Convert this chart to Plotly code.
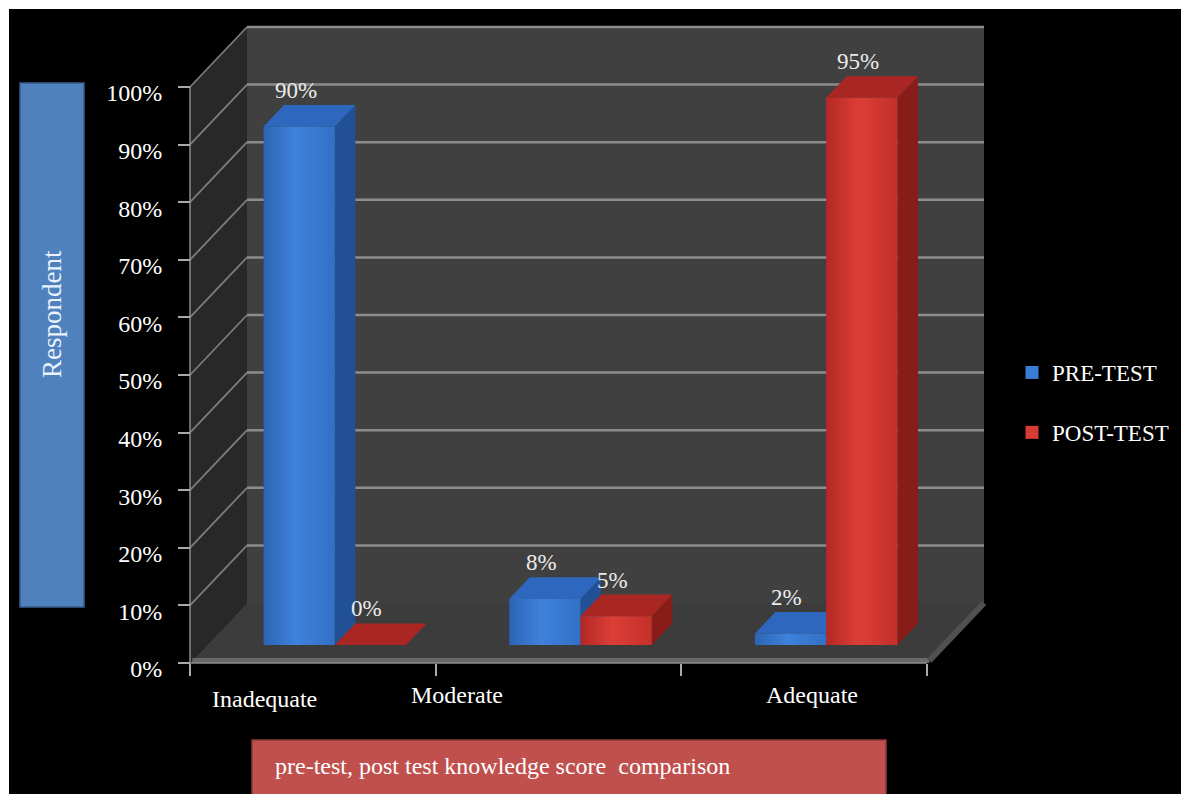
import plotly.graph_objects as go

# ---------------- data ----------------
categories = ["Inadequate", "Moderate", "Adequate"]
series_names = ["PRE-TEST", "POST-TEST"]
pre_test = [90, 8, 2]
post_test = [0, 5, 95]
y_ticks = [0, 10, 20, 30, 40, 50, 60, 70, 80, 90, 100]
y_tick_text = [f"{t}%" for t in y_ticks]
axis_title = "Respondent"
chart_title = "pre-test, post test knowledge score  comparison"

SERIF = "Times New Roman, Liberation Serif, DejaVu Serif, serif"

# ---------------- layout geometry ----------------
W, H = 1181, 794
ML, MT = 9, 9                      # white border on top/left
PW, PH = W - ML, H - MT
X0_PX, X3_PX = 190, 927            # front frame left/right (category 0 .. 3)
Y0_PX, Y100_PX = 663, 87           # front frame 0% / 100%
KX = (X3_PX - X0_PX) / 3.0
KY = (Y0_PX - Y100_PX) / 100.0
X_RANGE = [(ML - X0_PX) / KX, (W - X0_PX) / KX]
Y_RANGE = [(Y0_PX - H) / KY, (Y0_PX - MT) / KY]
DX = 57 / KX                        # depth offset (x units)
DY = 60 / KY                        # depth offset (y units)
D0, D1 = 0.30, 0.66                 # bar depth range
BW = 0.29                           # bar width
GC = 0.52                           # group center inside category


def px_x(px):
    return (px - ML) / PW


def px_y(py):
    return 1 - (py - MT) / PH


def P(u, v, d):
    return u + d * DX, v + d * DY


def poly(pts, fill, line_color=None, line_width=0, gradient=None):
    xs = [p[0] for p in pts] + [pts[0][0]]
    ys = [p[1] for p in pts] + [pts[0][1]]
    tr = dict(x=xs, y=ys, mode="lines", fill="toself", fillcolor=fill,
              line=dict(width=line_width, color=line_color or fill),
              hoverinfo="skip", showlegend=False)
    if gradient is not None:
        tr["fillgradient"] = gradient
    return go.Scatter(**tr)


def seg(p, q, color, width):
    return go.Scatter(x=[p[0], q[0]], y=[p[1], q[1]], mode="lines",
                      line=dict(color=color, width=width),
                      hoverinfo="skip", showlegend=False)


fig = go.Figure()
ncat = len(categories)
ymax = y_ticks[-1]

# walls
fig.add_trace(poly([P(0, 0, 0), P(0, ymax, 0), P(0, ymax, 1), P(0, 0, 1)], "rgb(40,40,40)"))
fig.add_trace(poly([P(0, 0, 1), P(0, ymax, 1), P(ncat, ymax, 1), P(ncat, 0, 1)], "rgb(64,64,64)"))
# floor
fig.add_trace(poly([P(0, 0, 0), P(ncat, 0, 0), P(ncat, 0, 1), P(0, 0, 1)], "rgb(60,60,60)"))

# gridlines
GRID = "rgb(140,140,140)"
for t in y_ticks[1:]:
    fig.add_trace(seg(P(0, t, 1), P(ncat, t, 1), GRID, 2.5))
    fig.add_trace(seg(P(0, t, 0), P(0, t, 1), "rgb(125,125,125)", 1.8))

# floor slab edges
fig.add_trace(seg(P(0, 0, 0.04), P(ncat, 0, 0.04), "rgb(105,105,105)", 5))
fig.add_trace(seg(P(ncat, 0, 0.04), P(ncat, 0, 1), "rgb(80,80,80)", 6))

# bars
styles = [
    dict(front=["rgb(44,100,180)", "rgb(62,130,220)", "rgb(50,112,198)"],
         top="rgb(45,104,190)", side="rgb(33,80,150)"),
    dict(front=["rgb(180,40,36)", "rgb(220,62,55)", "rgb(196,48,42)"],
         top="rgb(170,38,34)", side="rgb(135,28,24)"),
]
series = [pre_test, post_test]
label_ann = []
for i in range(ncat):
    for s, vals in enumerate(series):
        v = vals[i]
        u0 = i + GC - BW + s * BW
        u1 = u0 + BW
        st = styles[s]
        # side face
        fig.add_trace(poly([P(u1, 0, D0), P(u1, v, D0), P(u1, v, D1), P(u1, 0, D1)], st["side"]))
        # top face
        fig.add_trace(poly([P(u0, v, D0), P(u1, v, D0), P(u1, v, D1), P(u0, v, D1)], st["top"]))
        # front face
        if v > 0:
            fig.add_trace(poly([P(u0, 0, D0), P(u1, 0, D0), P(u1, v, D0), P(u0, v, D0)],
                               st["front"][2],
                               gradient=dict(type="horizontal",
                                             colorscale=[[0, st["front"][0]], [0.45, st["front"][1]],
                                                         [1, st["front"][2]]])))
        lx = P((u0 + u1) / 2, v, D0)[0] - 0.015
        ly = P(u0, v, D1)[1]
        label_ann.append(dict(x=lx, y=ly, xref="x", yref="y", text=f"{v}%", showarrow=False,
                              xanchor="center", yanchor="bottom", yshift=0,
                              font=dict(family=SERIF, size=23, color="rgb(235,235,235)")))

# front frame lines
FRAME = "rgb(140,140,140)"
fig.add_trace(seg((0, 0), (0, ymax), FRAME, 1.5))
fig.add_trace(seg((0, 0), (ncat, 0), FRAME, 1.5))

# legend entries
legend_colors = ["rgb(58,125,215)", "rgb(215,60,52)"]
for s, name in enumerate(series_names):
    fig.add_trace(go.Scatter(x=[None], y=[None], mode="markers", name=name,
                             legendgroup=name,
                             marker=dict(symbol="square", size=13, color=legend_colors[s])))

# category labels
cat_label_x = [0.305, 1.087, 2.533]
cat_label_y = [-6.2, -5.5, -5.5]
for c, cx, cy in zip(categories, cat_label_x, cat_label_y):
    label_ann.append(dict(x=cx, y=cy, xref="x", yref="y", text=c, showarrow=False,
                          xanchor="center", yanchor="middle",
                          font=dict(family=SERIF, size=24, color="white")))

# decorative boxes: axis title and chart title
shapes = [
    dict(type="rect", xref="paper", yref="paper", x0=px_x(20), x1=px_x(84), y0=px_y(607), y1=px_y(83),
         fillcolor="rgb(79,129,189)", line=dict(color="rgb(56,93,138)", width=1.5), layer="above"),
    dict(type="rect", xref="paper", yref="paper", x0=px_x(252), x1=px_x(886), y0=px_y(800), y1=px_y(740),
         fillcolor="rgb(192,80,77)", line=dict(color="rgb(140,56,54)", width=1.5), layer="above"),
]
label_ann.append(dict(x=px_x(52), y=px_y(314), xref="paper", yref="paper", text=axis_title,
                      textangle=-90, showarrow=False, xanchor="center", yanchor="middle",
                      font=dict(family=SERIF, size=27, color="rgb(235,242,255)")))
label_ann.append(dict(x=px_x(273), y=px_y(766), xref="paper", yref="paper", text=chart_title,
                      xanchor="left", yanchor="middle", showarrow=False,
                      font=dict(family=SERIF, size=24, color="white")))

fig.update_layout(
    width=W, height=H,
    margin=dict(l=ML, t=MT, r=0, b=0, pad=0, autoexpand=False),
    paper_bgcolor="white", plot_bgcolor="black",
    shapes=shapes, annotations=label_ann,
    showlegend=True,
    legend=dict(xref="container", yref="container", x=1012 / W, xanchor="left",
                y=1 - 351 / H, yanchor="top",
                font=dict(family=SERIF, size=23, color="white"),
                bgcolor="rgba(0,0,0,0)", tracegroupgap=27),
    xaxis=dict(range=X_RANGE, anchor="free", position=px_y(Y0_PX), tickmode="array",
               tickvals=list(range(ncat + 1)), showticklabels=False, ticks="outside",
               ticklen=12, tickwidth=1.5, tickcolor="rgb(170,170,170)", showgrid=False,
               zeroline=False, showline=False, fixedrange=True),
    yaxis=dict(range=Y_RANGE, anchor="free", position=px_x(X0_PX), tickmode="array",
               tickvals=y_ticks, ticktext=y_tick_text, ticks="outside", ticklen=12,
               tickwidth=1.5, tickcolor="rgb(170,170,170)", showgrid=False, zeroline=False,
               showline=False, ticklabelshift=6, ticklabelstandoff=11,
               tickfont=dict(family=SERIF, size=24, color="white"), fixedrange=True),
)

fig.write_html("out.html")
